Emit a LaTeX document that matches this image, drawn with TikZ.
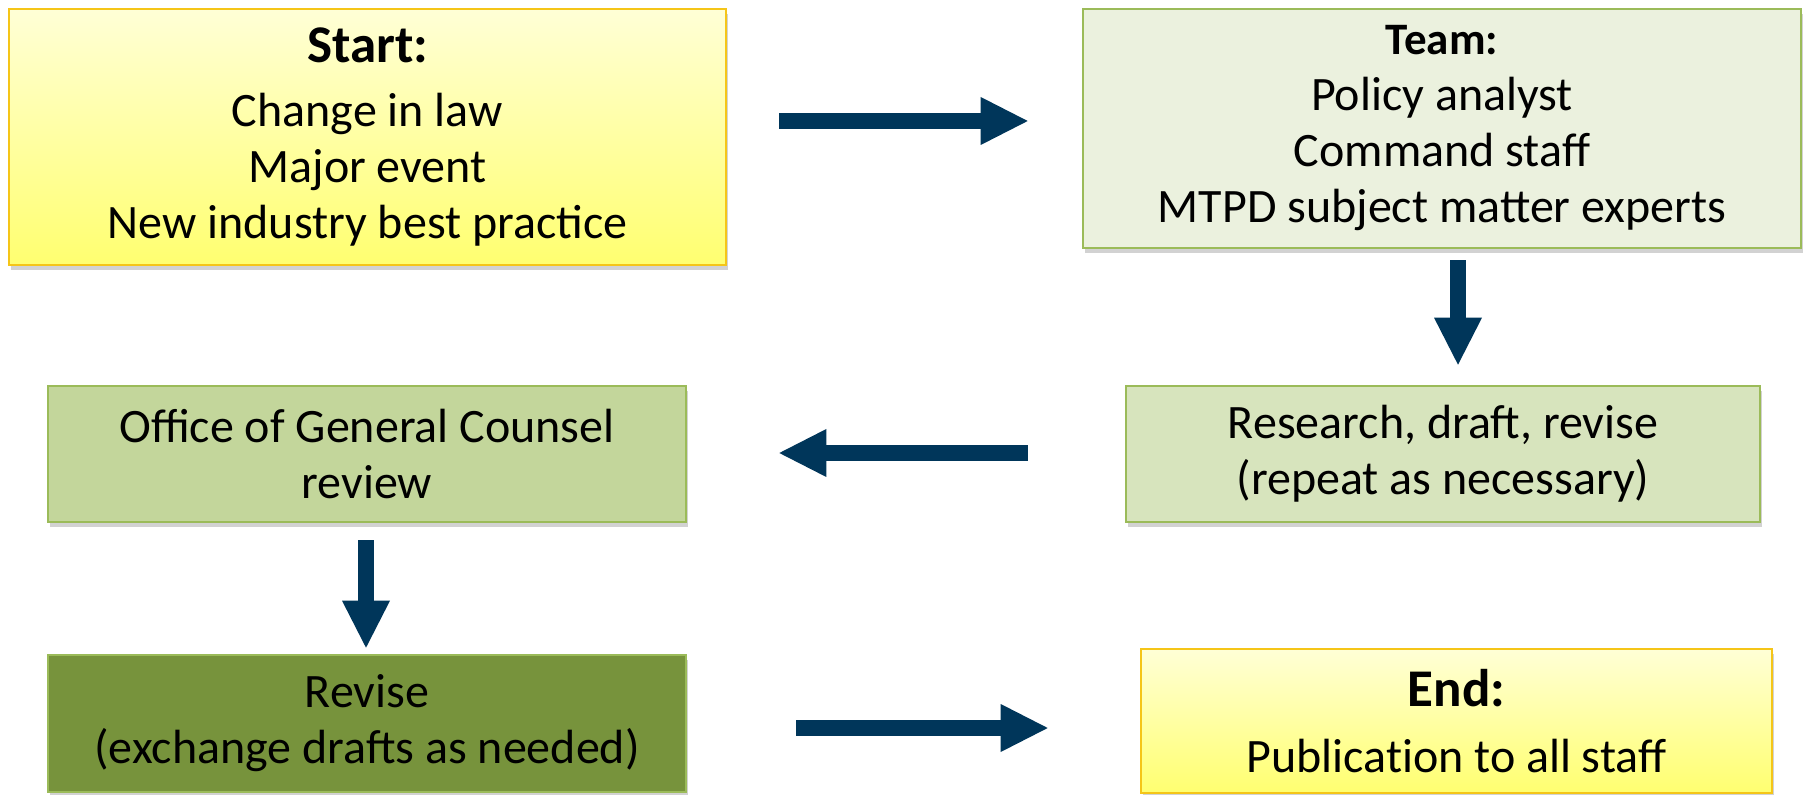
\documentclass[tikz,border=0pt]{standalone}
\usepackage{fontspec}
\setmainfont{Carlito}
\usepackage{xcolor}
\definecolor{cNavy}{HTML}{00365A}
\definecolor{cGold}{HTML}{F5C518}
\definecolor{cYelTop}{HTML}{FFFFD6}
\definecolor{cYelBot}{HTML}{FFFF70}
\definecolor{cOlive}{HTML}{9BBB59}
\definecolor{cGreen1}{HTML}{EBF1DE}
\definecolor{cGreen2}{HTML}{D7E4BD}
\definecolor{cGreen3}{HTML}{C3D69B}
\definecolor{cGreen4}{HTML}{77933C}
\usepackage{tikz}
\usetikzlibrary{positioning,arrows.meta,shadows,calc}
\tikzset{
  node-box/.style={draw,line width=1.3pt,align=center,inner sep=0pt,
    font=\fontsize{24}{28}\selectfont,
    drop shadow={shadow xshift=1pt,shadow yshift=-2.5pt,opacity=0.25,fill=black!70}},
  node-yellow/.style={draw=cGold,top color=cYelTop,bottom color=cYelBot},
  node-green/.style={draw=cOlive},
  arrow-flow/.style={-{Triangle[length=23.5pt,width=24pt,line width=0pt]},
    line width=8pt,draw=cNavy},
}
\newcommand{\bigtitle}[1]{{\fontsize{26.5}{32}\selectfont\bfseries #1}}
\newcommand{\smalltitle}[1]{{\fontsize{22.5}{28}\selectfont\bfseries #1}}

\begin{document}
\begin{tikzpicture}[x=0.5pt,y=-0.5pt]
  \useasboundingbox[fill=white] (0,0) rectangle (1807,795);
  % top row
  \node[node-box,node-yellow,minimum width=358.5pt,minimum height=128pt]
    (start) at (367.5,137)
    {\bigtitle{Start:}\\[4pt]Change in law\\Major event\\New industry best practice};
  \node[node-box,node-green,fill=cGreen1,minimum width=359pt,minimum height=119.5pt]
    (team) at (1442,128.5)
    {\smalltitle{Team:}\\Policy analyst\\Command staff\\MTPD subject matter experts};
  % middle row
  \node[node-box,node-green,fill=cGreen2,minimum width=317pt,minimum height=68pt]
    (research) at (1443,454) {Research, draft, revise\\(repeat as necessary)};
  \node[node-box,node-green,fill=cGreen3,minimum width=319pt,minimum height=68pt]
    (ogc) at (367,454) {Office of General Counsel\\review};
  % bottom row
  \node[node-box,node-green,fill=cGreen4,minimum width=319pt,minimum height=68.5pt]
    (revise) at (367,723.5) {Revise\\(exchange drafts as needed)};
  \node[node-box,node-yellow,minimum width=315.5pt,minimum height=72pt]
    (end) at (1456.5,721) {\bigtitle{End:}\\[5pt]Publicat\kern0pt ion to all staff};

  \draw[arrow-flow,shorten <=26pt,shorten >=27pt]
    (start.east |- 0,121) -- (team.west |- 0,121);
  \draw[arrow-flow,shorten <=5.5pt,shorten >=10pt]
    (team.south -| 1458,0) -- (research.north -| 1458,0);
  \draw[arrow-flow,shorten <=48.5pt,shorten >=46pt]
    (research.west |- 0,453) -- (ogc.east |- 0,453);
  \draw[arrow-flow,shorten <=8.5pt,shorten >=3pt]
    (ogc.south -| 366,0) -- (revise.north -| 366,0);
  \draw[arrow-flow,shorten <=54.5pt,shorten >=46pt]
    (revise.east |- 0,728) -- (end.west |- 0,728);
\end{tikzpicture}
\end{document}
